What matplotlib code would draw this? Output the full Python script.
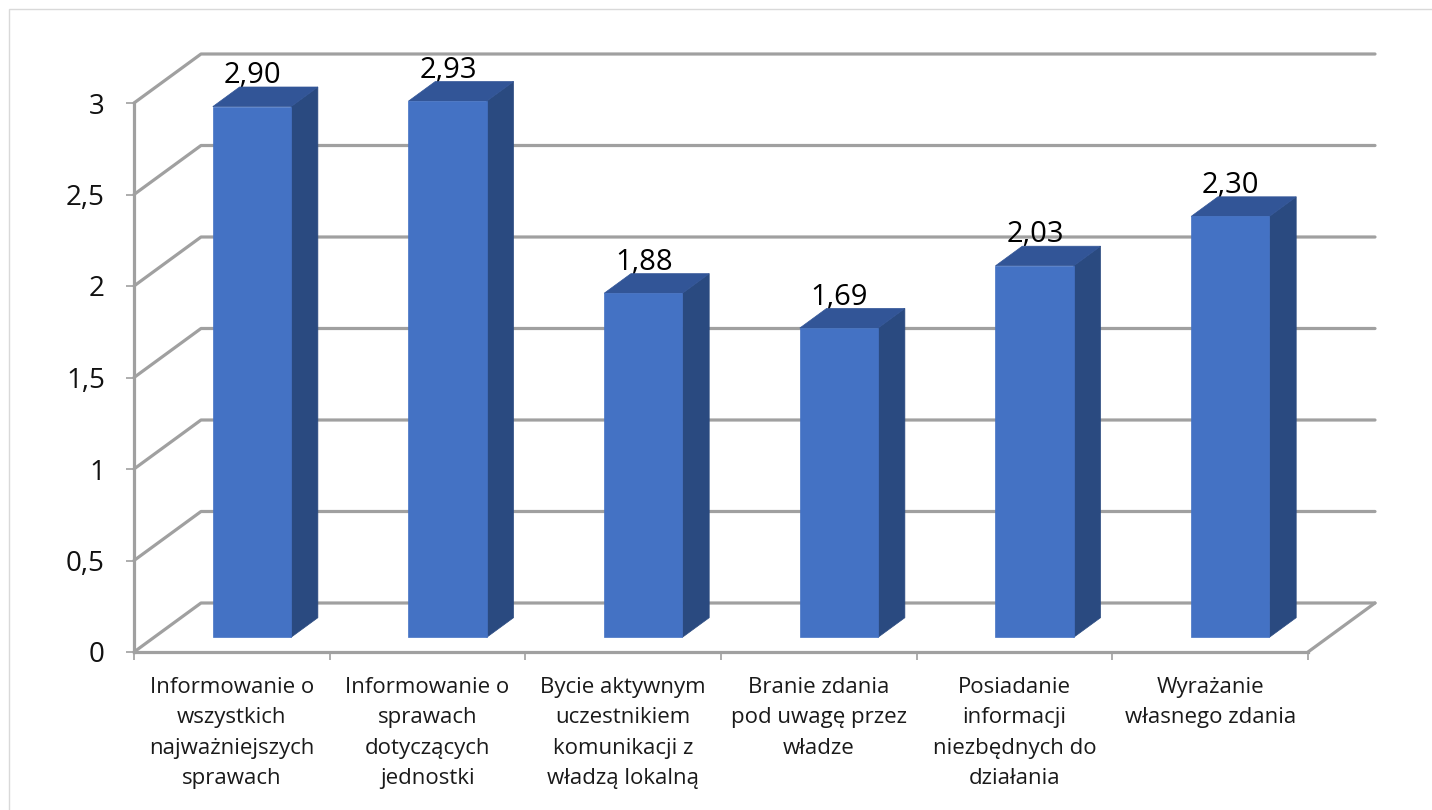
import matplotlib
matplotlib.use("Agg")
import matplotlib.pyplot as plt
from matplotlib.patches import Polygon, Rectangle
from matplotlib.transforms import offset_copy

categories = [
    "Informowanie o\nwszystkich\nnajważniejszych\nsprawach",
    "Informowanie o\nsprawach\ndotyczących\njednostki",
    "Bycie aktywnym\nuczestnikiem\nkomunikacji z\nwładzą lokalną",
    "Branie zdania\npod uwagę przez\nwładze",
    "Posiadanie\ninformacji\nniezbędnych do\ndziałania",
    "Wyrażanie\nwłasnego zdania",
]
values = [2.90, 2.93, 1.88, 1.69, 2.03, 2.30]
y_ticks = [0, 0.5, 1, 1.5, 2, 2.5, 3]
y_tick_labels = ["0", "0,5", "1", "1,5", "2", "2,5", "3"]

W, H = 1432, 810
GREY = "#a0a0a0"
FRONT, SIDE, TOP = "#4472C4", "#2A4A80", "#325597"
plt.rcParams["font.family"] = ["Open Sans", "DejaVu Sans"]

fig = plt.figure(figsize=(W / 100, H / 100), dpi=100, facecolor="white")
fig.patches.append(Rectangle((9 / W, -0.1), 1.2, 1.1 - 9.5 / H, transform=fig.transFigure,
                             fill=False, edgecolor="#d9d9d9", linewidth=1.0))
ax = fig.add_axes([134 / W, (H - 652) / H, 1174 / W, 549 / H])
ax.set_xlim(0, len(values))
ax.set_ylim(0, 3)
ax.patch.set_visible(False)

# oblique projection: depth 0..1 moves right and up
DX, DY = 67 / (1174 / 6), 49 / (549 / 3)


def proj(x, y, d):
    return x + d * DX, y + d * DY


n = len(values)
grid_kw = dict(color=GREY, lw=2.3, clip_on=False, zorder=1, solid_capstyle="round", solid_joinstyle="round")
for v in y_ticks:
    x0, y0 = proj(0, v, 1)
    x1, y1 = proj(n, v, 1)
    ax.plot([0, x0, x1], [v, y0, y1], **grid_kw)
x1, y1 = proj(n, 0, 1)
ax.plot([n, x1], [0, y1], **grid_kw)

BAR_W, D0, D1 = 0.4, 0.3, 0.7
for i, v in enumerate(values):
    l, r = i + 0.5 - BAR_W / 2, i + 0.5 + BAR_W / 2
    a = proj(l, 0, D0)
    b = proj(r, 0, D0)
    c = proj(r, v, D0)
    d = proj(l, v, D0)
    e = proj(r, 0, D1)
    f = proj(r, v, D1)
    g = proj(l, v, D1)
    ax.add_patch(Polygon([b, e, f, c], closed=True, fc=SIDE, ec=SIDE, lw=0.5, clip_on=False, zorder=3))
    ax.add_patch(Polygon([d, c, f, g], closed=True, fc=TOP, ec=TOP, lw=0.5, clip_on=False, zorder=3))
    ax.add_patch(Polygon([a, b, c, d], closed=True, fc=FRONT, ec=FRONT, lw=0.5, clip_on=False, zorder=4))
    tr = offset_copy(ax.transData, fig=fig, x=0.5 * 0.72, y=31 * 0.72, units="points")
    ax.text(*proj(i + 0.5, v, D0), f"{v:.2f}".replace(".", ","), transform=tr, ha="center", va="center",
            fontsize=21, color="black", zorder=2)

for s in ("top", "right"):
    ax.spines[s].set_visible(False)
for s in ("left", "bottom"):
    ax.spines[s].set_color(GREY)
    ax.spines[s].set_linewidth(2.3)
    ax.spines[s].set_zorder(1)

ax.set_yticks(y_ticks, y_tick_labels)
ax.tick_params(axis="y", length=5.5, width=1.2, color=GREY, pad=15.5, labelsize=20, labelcolor="#111111")
ax.set_xticks(range(n + 1), [""] * (n + 1))
ax.tick_params(axis="x", which="major", length=5.5, width=1.2, color=GREY)
ax.set_xticks([i + 0.5 for i in range(n)], categories, minor=True, linespacing=1.59, ma="center")
ax.tick_params(axis="x", which="minor", length=0, pad=18, labelsize=16, labelcolor="#1a1a1a")

fig.savefig("out.png", dpi=100)
